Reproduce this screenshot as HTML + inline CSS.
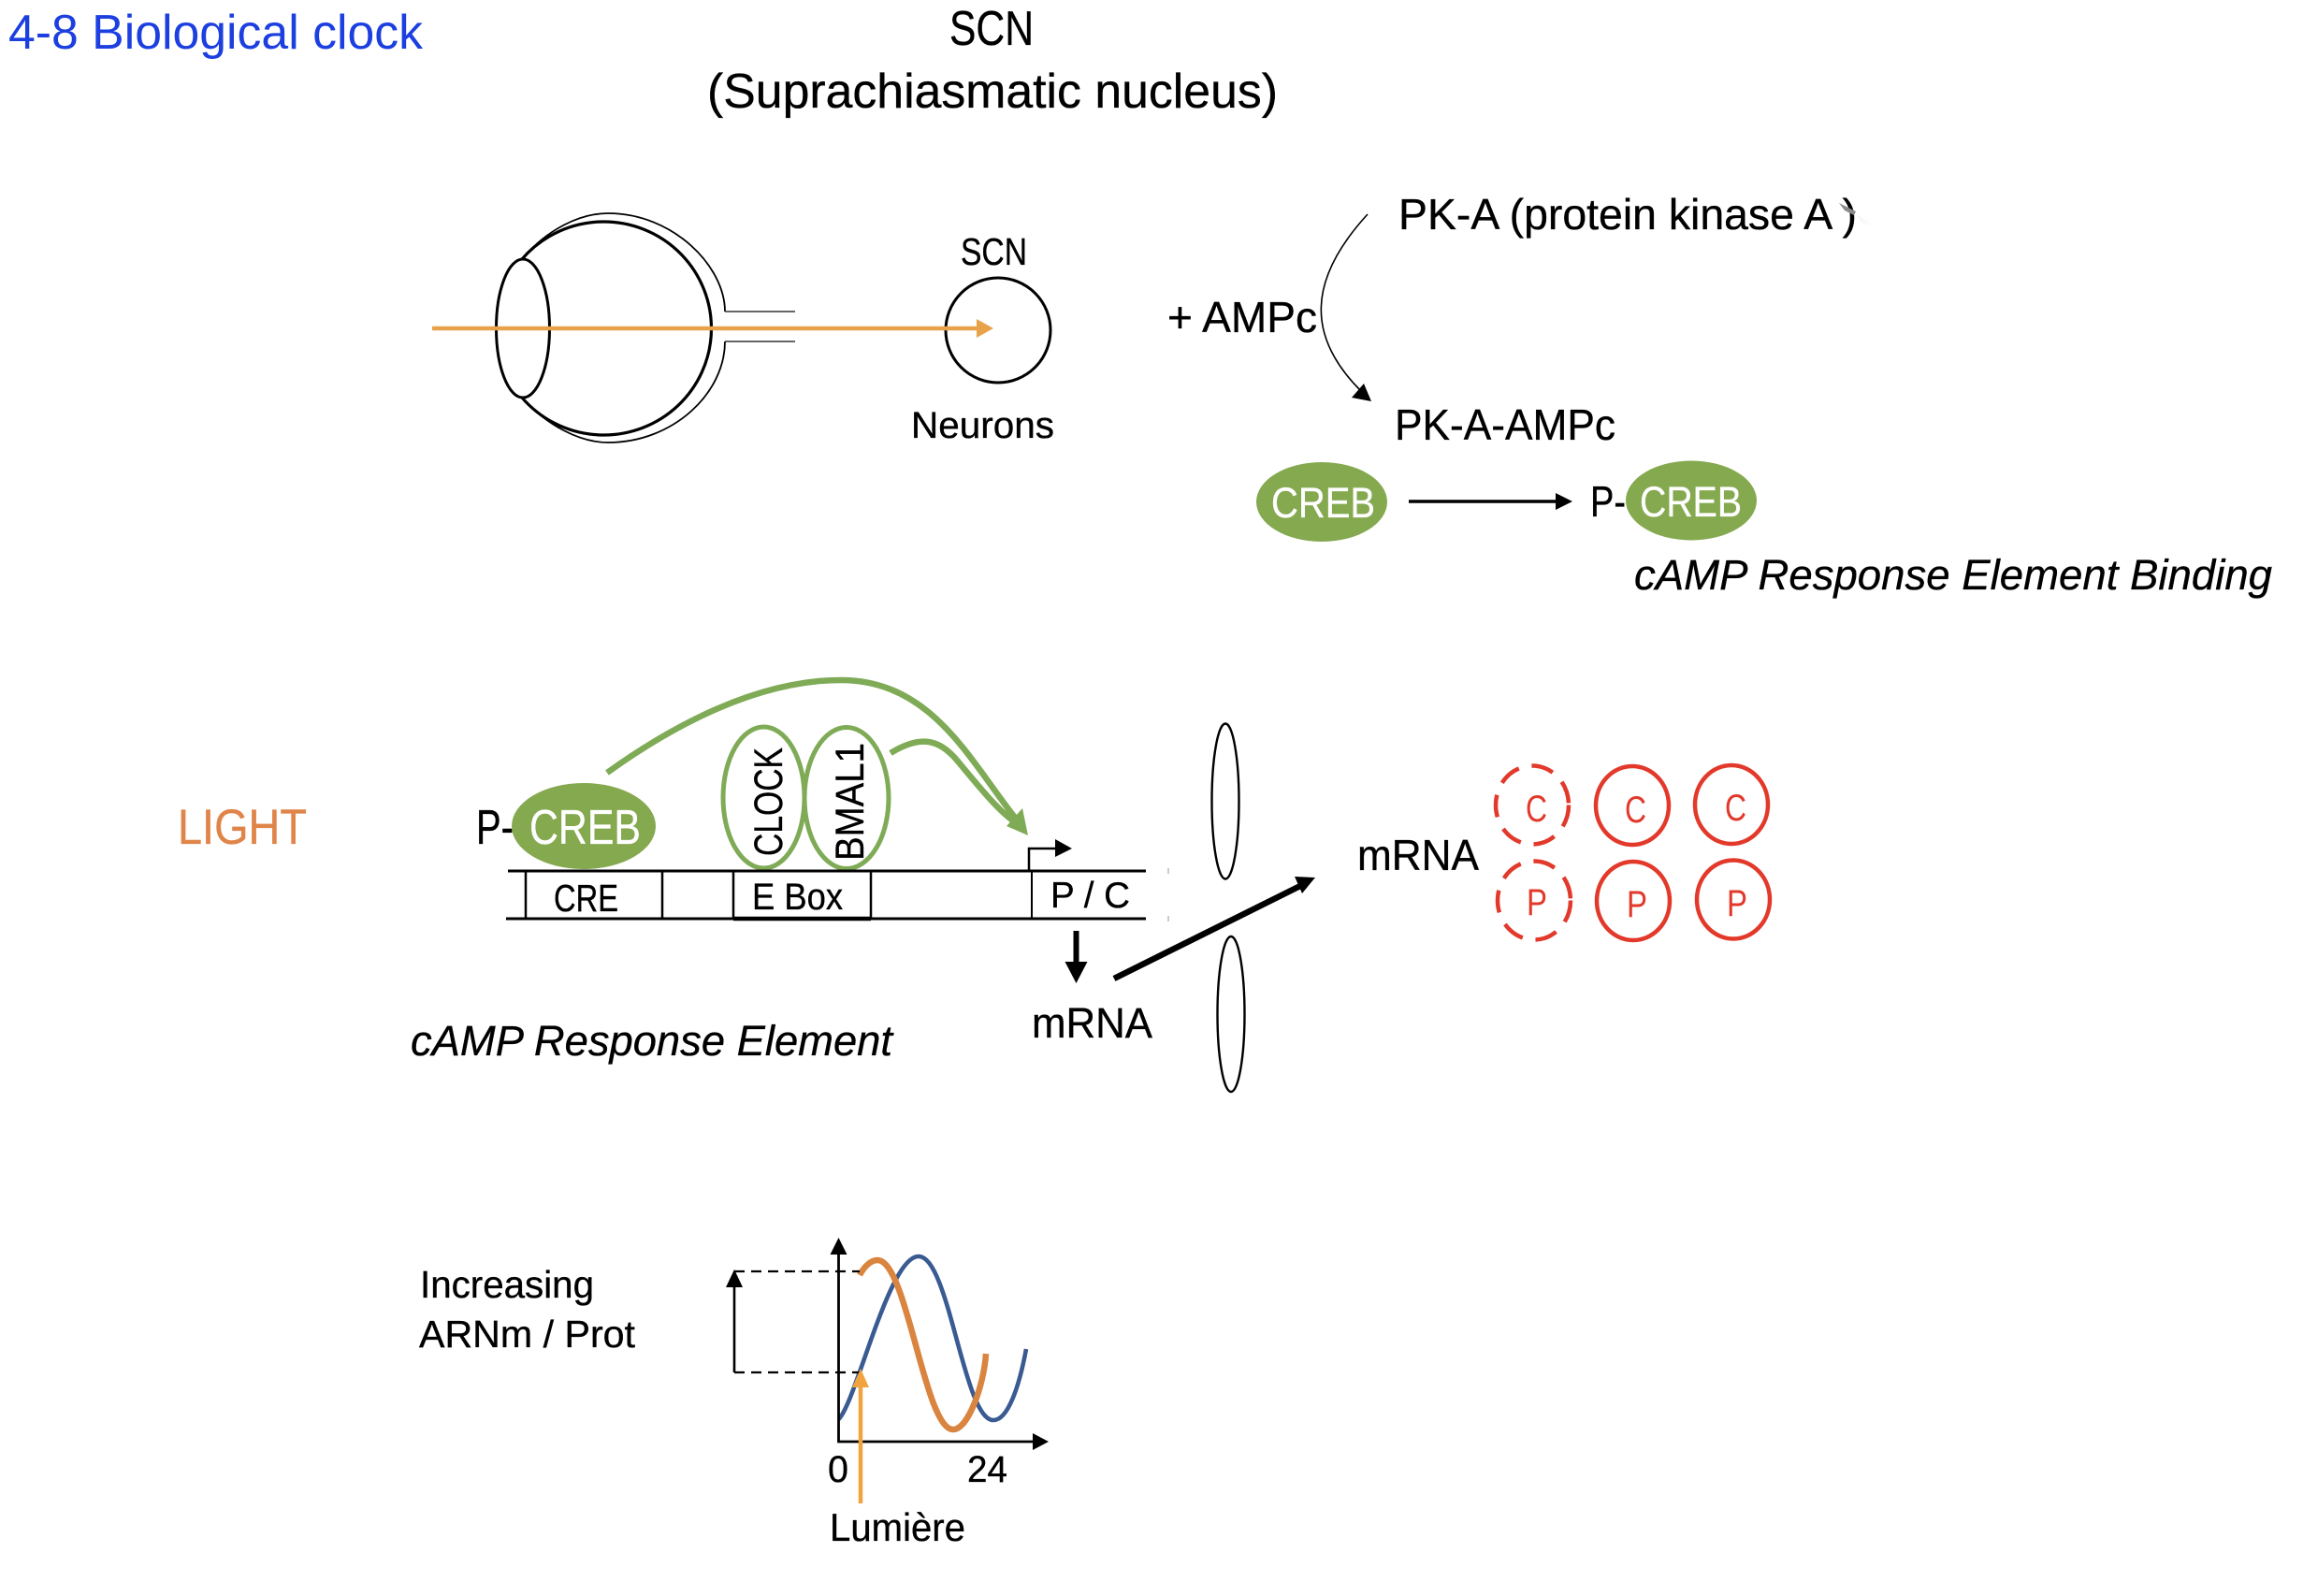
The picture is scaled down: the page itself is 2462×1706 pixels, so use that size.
<!DOCTYPE html>
<html><head><meta charset="utf-8"><style>
html,body{margin:0;padding:0;background:#fff}
svg{display:block}
text{font-family:"Liberation Sans",sans-serif;fill:#000;stroke:#000;stroke-width:.35}
</style></head><body>
<svg xmlns="http://www.w3.org/2000/svg" width="2462" height="1706" viewBox="0 0 2462 1706">
<defs><linearGradient id="f" x1="0" y1="0" x2="1" y2="0.6"><stop offset="0" stop-color="#ddd"/><stop offset="1" stop-color="#fff"/></linearGradient></defs>
<rect width="2462" height="1706" fill="#fff"/>

<!-- Titles -->
<text x="9" y="52" font-size="52" style="fill:#1c3fe0;stroke:none" textLength="443" lengthAdjust="spacingAndGlyphs">4-8 Biological clock</text>
<text x="1015" y="48" font-size="52" textLength="90" lengthAdjust="spacingAndGlyphs">SCN</text>
<text x="756" y="115" font-size="52" textLength="610" lengthAdjust="spacingAndGlyphs">(Suprachiasmatic nucleus)</text>
<text x="190" y="902" font-size="53" style="fill:#e0854a;stroke:#e0854a" textLength="138" lengthAdjust="spacingAndGlyphs">LIGHT</text>

<!-- Eye -->
<g fill="none" stroke="#000">
<path d="M558 277 C585 245 620 228 650 228 C720 228 775 285 775 333" stroke-width="1.8"/>
<path d="M775 365 C775 420 720 473 650 473 C620 473 585 455 558 425" stroke-width="1.8"/>
<path d="M775 333H850M775 365H850" stroke-width="1.6" stroke="#333"/>
<path d="M558 277 A115 114 0 1 1 558 425" stroke-width="3.2"/>
<ellipse cx="559" cy="351" rx="28.5" ry="74" stroke-width="3"/>
<ellipse cx="1067" cy="353" rx="56" ry="56" stroke-width="3"/>
</g>
<path d="M462 351H1048" stroke="#e8a24a" stroke-width="4.5" fill="none"/>
<polygon points="1044,341 1062,351 1044,361" fill="#e8a24a"/>
<text x="1027" y="283" font-size="41" textLength="71" lengthAdjust="spacingAndGlyphs">SCN</text>
<text x="974" y="468" font-size="40" textLength="153" lengthAdjust="spacingAndGlyphs">Neurons</text>

<!-- PK-A -->
<text x="1495" y="245" font-size="46" textLength="490" lengthAdjust="spacingAndGlyphs">PK-A (protein kinase A )</text>
<polygon points="1950,207 2013,247 1990,240 1985,229 1968,220" fill="#fff"/>
<polygon points="1952,208 2013,247 1990,238 1985,229" fill="url(#f)"/>
<polygon points="1966,217 1984,226 1982,230 1972,225" fill="#8a8a8a"/>
<path d="M1462 229 C1397 300 1397 360 1455 418" fill="none" stroke="#000" stroke-width="1.6"/>
<polygon points="1466,429 1445,425 1458,410" fill="#000"/>
<text x="1248" y="355" font-size="46" textLength="160" lengthAdjust="spacingAndGlyphs">+ AMPc</text>
<text x="1491" y="470" font-size="46" textLength="236" lengthAdjust="spacingAndGlyphs">PK-A-AMPc</text>
<ellipse cx="1413" cy="536.5" rx="70" ry="42.5" fill="#85a94f"/>
<text x="1359" y="553" font-size="45" style="fill:#fff;stroke:#fff" textLength="111" lengthAdjust="spacingAndGlyphs">CREB</text>
<path d="M1506 536H1668" stroke="#000" stroke-width="3.6"/>
<polygon points="1663,527 1681,536 1663,545" fill="#000"/>
<text x="1700" y="552" font-size="46" textLength="38" lengthAdjust="spacingAndGlyphs">P-</text>
<ellipse cx="1808" cy="535" rx="70" ry="42.5" fill="#85a94f"/>
<text x="1753" y="552" font-size="45" style="fill:#fff;stroke:#fff" textLength="109" lengthAdjust="spacingAndGlyphs">CREB</text>
<text x="1747" y="630" font-size="45" font-style="italic" textLength="682" lengthAdjust="spacingAndGlyphs">cAMP Response Element Binding</text>

<!-- Gene -->
<text x="509" y="902" font-size="52" textLength="40" lengthAdjust="spacingAndGlyphs">P-</text>
<ellipse cx="624" cy="883" rx="77" ry="46" fill="#85a94f"/>
<text x="566" y="902" font-size="52" style="fill:#fff;stroke:#fff" textLength="119" lengthAdjust="spacingAndGlyphs">CREB</text>
<g fill="none" stroke="#7fab57" stroke-width="6.5">
<path d="M649 826 C720 775 810 727 899 727 C1000 727 1040 820 1090 880"/>
<path d="M952 805 C985 785 1005 790 1025 815 C1050 845 1070 870 1090 882"/>
</g>
<polygon points="1099,893 1076,883 1093,864" fill="#7fab57"/>
<g fill="none" stroke="#7fab57" stroke-width="5">
<ellipse cx="816.5" cy="852.5" rx="43.5" ry="75.5"/>
<ellipse cx="905" cy="853" rx="45" ry="75.5"/>
</g>
<text transform="translate(836 915) rotate(-90)" font-size="43" textLength="116" lengthAdjust="spacingAndGlyphs">CLOCK</text>
<text transform="translate(923 920) rotate(-90)" font-size="43" textLength="126" lengthAdjust="spacingAndGlyphs">BMAL1</text>
<g fill="none" stroke="#000">
<path d="M543 931H1225M541 982H1225" stroke-width="3"/>
<rect x="562" y="931" width="146" height="51" stroke-width="2.5"/>
<rect x="784" y="931" width="147" height="51" stroke-width="2.5"/>
<path d="M784 982H931" stroke-width="4.5"/>
<path d="M1103 931V982" stroke-width="2"/>
<path d="M1100 931V907H1130" stroke-width="2.5"/>
<path d="M1249 928V934M1249 979V985" stroke="#bbb" stroke-width="1.5"/>
</g>
<polygon points="1128,897 1146,907 1128,916" fill="#000"/>
<text x="592" y="974" font-size="41" textLength="69" lengthAdjust="spacingAndGlyphs">CRE</text>
<text x="804" y="972" font-size="40" textLength="97" lengthAdjust="spacingAndGlyphs">E Box</text>
<text x="1123" y="970" font-size="39" textLength="85" lengthAdjust="spacingAndGlyphs">P / C</text>
<path d="M1150.5 995V1030" stroke="#000" stroke-width="6"/>
<polygon points="1138.5,1028 1162.5,1028 1150.5,1051" fill="#000"/>
<text x="1103" y="1109" font-size="45" textLength="129" lengthAdjust="spacingAndGlyphs">mRNA</text>
<text x="439" y="1128" font-size="45" font-style="italic" textLength="515" lengthAdjust="spacingAndGlyphs">cAMP Response Element</text>
<g fill="none" stroke="#000" stroke-width="2.4">
<ellipse cx="1310" cy="856.5" rx="14.5" ry="83"/>
<ellipse cx="1316" cy="1084" rx="14.5" ry="83"/>
</g>
<path d="M1191 1046L1392 946" stroke="#000" stroke-width="6.5" fill="none"/>
<polygon points="1406,938 1384,937 1392,955" fill="#000"/>
<text x="1451" y="930" font-size="46" textLength="130" lengthAdjust="spacingAndGlyphs">mRNA</text>

<!-- Protein circles -->
<g fill="none" stroke="#e2392b" stroke-width="4.5">
<ellipse cx="1638" cy="860.5" rx="39" ry="42" stroke-dasharray="24 14"/>
<ellipse cx="1745" cy="861" rx="39" ry="42"/>
<ellipse cx="1851" cy="860" rx="39" ry="42"/>
<ellipse cx="1640" cy="962.5" rx="39" ry="42" stroke-dasharray="24 14"/>
<ellipse cx="1746" cy="963" rx="39" ry="42"/>
<ellipse cx="1853" cy="961.5" rx="39" ry="42"/>
</g>
<g font-size="40">
<text x="1631" y="878" style="fill:#e2392b;stroke:none" textLength="23" lengthAdjust="spacingAndGlyphs">C</text>
<text x="1737" y="879" style="fill:#e2392b;stroke:none" textLength="23" lengthAdjust="spacingAndGlyphs">C</text>
<text x="1844" y="877" style="fill:#e2392b;stroke:none" textLength="23" lengthAdjust="spacingAndGlyphs">C</text>
<text x="1632" y="978" style="fill:#e2392b;stroke:none" textLength="22" lengthAdjust="spacingAndGlyphs">P</text>
<text x="1739" y="980" style="fill:#e2392b;stroke:none" textLength="22" lengthAdjust="spacingAndGlyphs">P</text>
<text x="1846" y="979" style="fill:#e2392b;stroke:none" textLength="22" lengthAdjust="spacingAndGlyphs">P</text>
</g>

<!-- Chart -->
<text x="449" y="1387" font-size="41" textLength="186" lengthAdjust="spacingAndGlyphs">Increasing</text>
<text x="448" y="1440" font-size="41" textLength="231" lengthAdjust="spacingAndGlyphs">ARNm / Prot</text>
<path d="M896.5 1517 C915 1500 950 1343 982 1343 C1015 1343 1030 1518 1062 1518 C1078 1518 1090 1480 1097 1442" fill="none" stroke="#3a5a92" stroke-width="4.6"/>
<path d="M919 1363 C925 1352 932 1347 938 1347 C970 1347 988 1528 1019 1528 C1035 1528 1052 1480 1054 1447" fill="none" stroke="#d9843f" stroke-width="6.5"/>
<path d="M896.5 1340V1541H1106" fill="none" stroke="#000" stroke-width="2.8"/>
<polygon points="887.5,1341 905.5,1341 896.5,1323" fill="#000"/>
<polygon points="1104,1532 1121,1541 1104,1550" fill="#000"/>
<path d="M785 1467V1372" fill="none" stroke="#000" stroke-width="2.6"/>
<polygon points="776,1376 794,1376 785,1357" fill="#000"/>
<path d="M785 1359H919M785 1467H919" fill="none" stroke="#000" stroke-width="2.2" stroke-dasharray="11 7"/>
<path d="M920 1607V1480" stroke="#f0a33f" stroke-width="4.5" fill="none"/>
<polygon points="911,1483 929,1483 920,1463" fill="#f0a33f"/>
<text x="885" y="1584" font-size="40" textLength="22" lengthAdjust="spacingAndGlyphs">0</text>
<text x="1034" y="1584" font-size="40" textLength="43" lengthAdjust="spacingAndGlyphs">24</text>
<text x="887" y="1647" font-size="42" textLength="145" lengthAdjust="spacingAndGlyphs">Lumière</text>
</svg>
</body></html>
